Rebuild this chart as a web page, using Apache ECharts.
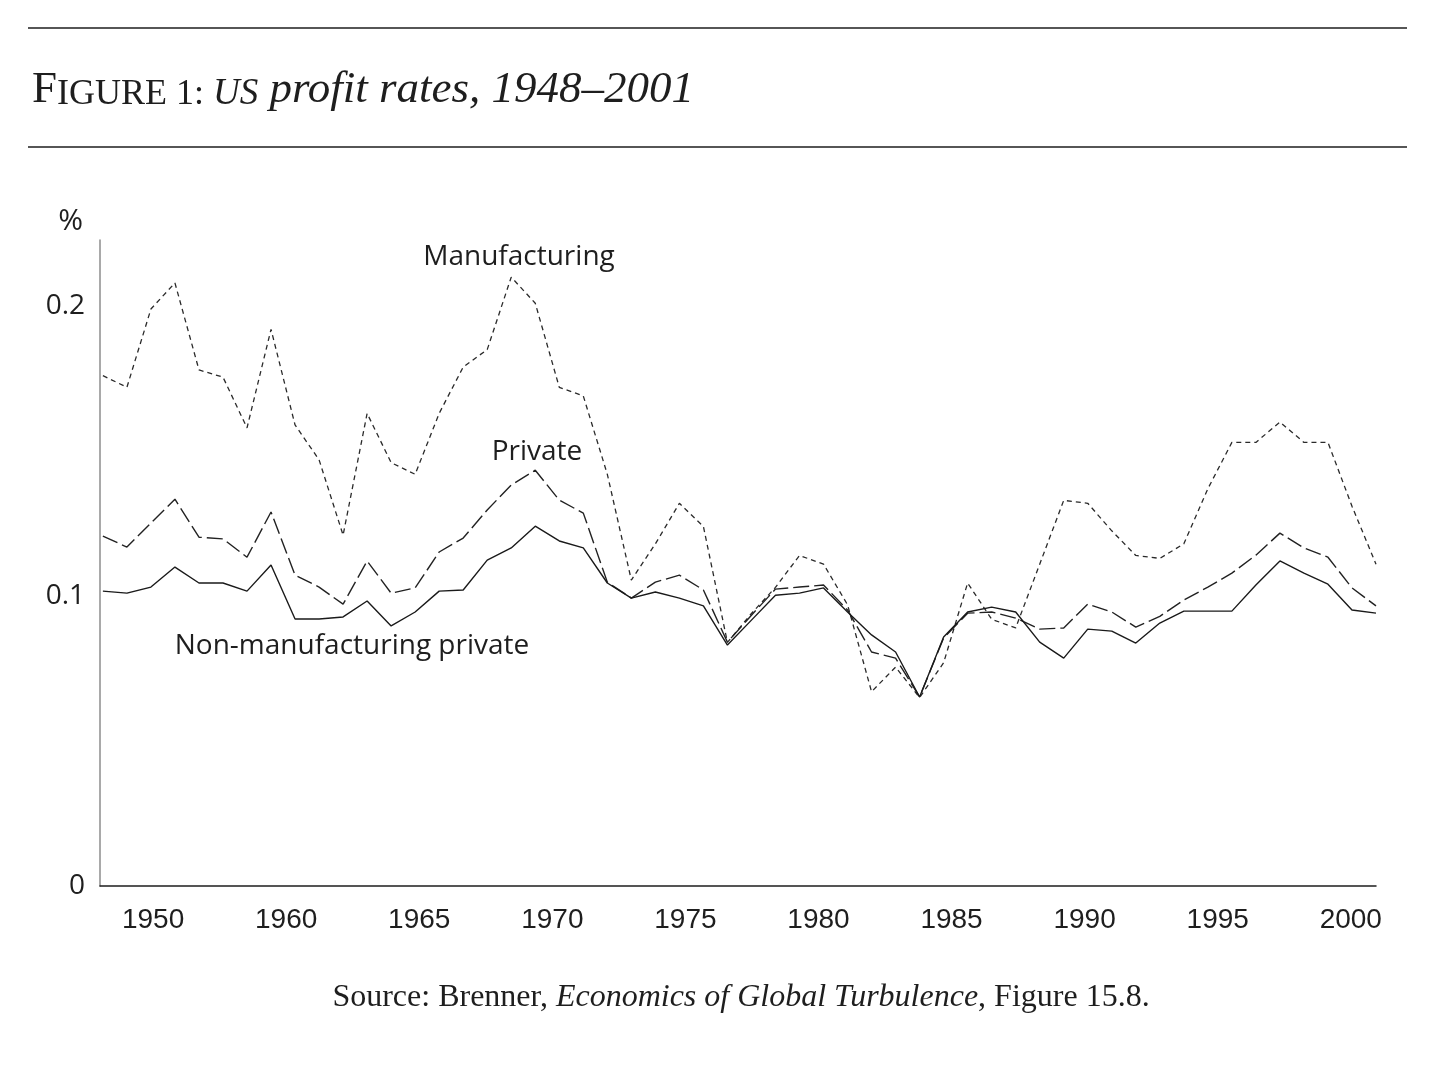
<!DOCTYPE html>
<html>
<head>
<meta charset="utf-8">
<script src="https://cdn.jsdelivr.net/npm/echarts@6/dist/echarts.min.js"></script>
<style>
  html, body { margin: 0; padding: 0; background: #ffffff; }
  #chart { width: 1441px; height: 1078px; }
</style>
</head>
<body>
<div id="chart"></div>
<script>
// ---- Data ----
const years = [1948,1949,1950,1951,1952,1953,1954,1955,1956,1957,1958,1959,1960,1961,1962,1963,1964,1965,1966,1967,1968,1969,1970,1971,1972,1973,1974,1975,1976,1977,1978,1979,1980,1981,1982,1983,1984,1985,1986,1987,1988,1989,1990,1991,1992,1993,1994,1995,1996,1997,1998,1999,2000,2001];

const manufacturing = [0.176,0.172,0.199,0.208,0.178,0.1755,0.158,0.192,0.159,0.147,0.121,0.163,0.146,0.142,0.163,0.179,0.185,0.210,0.201,0.172,0.169,0.142,0.1055,0.118,0.132,0.124,0.084,0.094,0.103,0.114,0.111,0.097,0.067,0.0755,0.065,0.077,0.1045,0.092,0.089,0.111,0.133,0.132,0.1225,0.114,0.113,0.118,0.137,0.153,0.153,0.160,0.153,0.153,0.131,0.111];

const privateRate = [0.1207,0.1169,0.1252,0.1334,0.1203,0.1197,0.1134,0.1290,0.1072,0.1031,0.0972,0.1121,0.1010,0.1028,0.1152,0.1200,0.1297,0.1383,0.1434,0.1331,0.1286,0.1048,0.0993,0.1048,0.1072,0.1021,0.0841,0.0934,0.1024,0.1031,0.1038,0.0952,0.0807,0.0786,0.0652,0.0855,0.0941,0.0945,0.0924,0.0886,0.0890,0.0972,0.0945,0.0893,0.0930,0.0986,0.1031,0.1079,0.1141,0.1217,0.1166,0.1134,0.1028,0.0966];

const nonManufacturing = [0.1017,0.1010,0.1031,0.1100,0.1045,0.1045,0.1017,0.1107,0.0921,0.0921,0.0928,0.0983,0.0897,0.0945,0.1017,0.1021,0.1124,0.1166,0.1241,0.1190,0.1166,0.1045,0.0993,0.1014,0.0993,0.0966,0.0831,0.0917,0.1003,0.1010,0.1028,0.0945,0.0866,0.0807,0.0652,0.0859,0.0945,0.0962,0.0945,0.0841,0.0786,0.0886,0.0879,0.0838,0.0907,0.0948,0.0948,0.0948,0.1038,0.1121,0.1079,0.1041,0.0952,0.0941];

const xTickLabels = ['1950','1960','1965','1970','1975','1980','1985','1990','1995','2000'];
const yTickValues = [0, 0.1, 0.2];

// ---- Layout helpers ----
// The reference spaces its year labels evenly along the axis.
const xMin = 1947.88, xMax = 2001;
const labelFirst = 1950.09, labelLast = 1999.95;
const xLabelPos = xTickLabels.map((_, i) => labelFirst + i * (labelLast - labelFirst) / (xTickLabels.length - 1));

function pairs(vals) { return years.map((y, i) => [y, vals[i]]); }

const ink = '#1e1e1e';
const sans = '"Open Sans", "Noto Sans", sans-serif';
const serif = '"Liberation Serif", "DejaVu Serif", serif';

const chart = echarts.init(document.getElementById('chart'), null, { renderer: 'canvas' });

chart.setOption({
  backgroundColor: '#ffffff',
  animation: false,
  grid: { left: 100, right: 65, top: 240, bottom: 192, outerBoundsMode: 'none' },
  xAxis: {
    type: 'value',
    min: xMin,
    max: xMax,
    axisLine: { show: true, lineStyle: { color: ink, width: 1.5 } },
    axisTick: { show: false },
    splitLine: { show: false },
    axisLabel: {
      customValues: xLabelPos,
      margin: 20,
      color: ink,
      fontFamily: '"Liberation Sans", Arial, sans-serif',
      fontSize: 28,
      formatter: function (v) {
        let best = 0, d = Infinity;
        xLabelPos.forEach((p, i) => { if (Math.abs(p - v) < d) { d = Math.abs(p - v); best = i; } });
        return xTickLabels[best];
      }
    }
  },
  yAxis: {
    type: 'value',
    min: 0,
    max: 0.2228,
    name: '%',
    nameLocation: 'end',
    nameGap: 4,
    nameTextStyle: { color: ink, fontFamily: sans, fontSize: 30, align: 'right', padding: [0, 17, 0, 0] },
    axisLine: { show: true, lineStyle: { color: '#8c8c8c', width: 1.5 } },
    axisTick: { show: false },
    splitLine: { show: false },
    axisLabel: {
      customValues: yTickValues,
      margin: 15,
      color: ink,
      fontFamily: sans,
      fontSize: 28,
      formatter: v => (v === 0 ? '0' : v.toFixed(1))
    }
  },
  series: [
    {
      name: 'Manufacturing',
      type: 'line',
      data: pairs(manufacturing),
      symbol: 'none',
      lineStyle: { color: '#2a2a2a', width: 1.3, type: [5, 4] },
      z: 3
    },
    {
      name: 'Private',
      type: 'line',
      data: pairs(privateRate),
      symbol: 'none',
      lineStyle: { color: '#222222', width: 1.4, type: [16, 5] },
      z: 4
    },
    {
      name: 'Non-manufacturing private',
      type: 'line',
      data: pairs(nonManufacturing),
      symbol: 'none',
      lineStyle: { color: '#1a1a1a', width: 1.4, type: 'solid' },
      z: 5
    }
  ],
  graphic: [
    { type: 'line', shape: { x1: 28, y1: 28, x2: 1407, y2: 28 }, style: { stroke: ink, lineWidth: 1.5 } },
    { type: 'line', shape: { x1: 28, y1: 147, x2: 1407, y2: 147 }, style: { stroke: ink, lineWidth: 1.5 } },
    {
      type: 'text', x: 32, y: 113,
      style: {
        text: '{a|F}{b|IGURE 1: }{c|US}{d| profit rates, 1948–2001}',
        align: 'left', verticalAlign: 'bottom',
        fill: ink,
        rich: {
          a: { fontFamily: serif, fontSize: 45, verticalAlign: 'bottom', lineHeight: 50 },
          b: { fontFamily: serif, fontSize: 36, verticalAlign: 'bottom', lineHeight: 50 },
          c: { fontFamily: serif, fontSize: 37, fontStyle: 'italic', verticalAlign: 'bottom', lineHeight: 50 },
          d: { fontFamily: serif, fontSize: 45, fontStyle: 'italic', verticalAlign: 'bottom', lineHeight: 50 }
        }
      }
    },
    { type: 'text', x: 519, y: 257, style: { text: 'Manufacturing', fontFamily: sans, fontSize: 28, fill: ink, align: 'center', verticalAlign: 'middle' } },
    { type: 'text', x: 537, y: 452, style: { text: 'Private', fontFamily: sans, fontSize: 28, fill: ink, align: 'center', verticalAlign: 'middle' } },
    { type: 'text', x: 352, y: 646, style: { text: 'Non-manufacturing private', fontFamily: sans, fontSize: 28, fill: ink, align: 'center', verticalAlign: 'middle' } },
    {
      type: 'text', x: 741, y: 998,
      style: {
        text: '{n|Source: Brenner, }{i|Economics of Global Turbulence}{n|, Figure 15.8.}',
        align: 'center', verticalAlign: 'middle', fill: ink,
        rich: {
          n: { fontFamily: serif, fontSize: 32 },
          i: { fontFamily: serif, fontSize: 32, fontStyle: 'italic' }
        }
      }
    }
  ]
});
</script>
</body>
</html>
